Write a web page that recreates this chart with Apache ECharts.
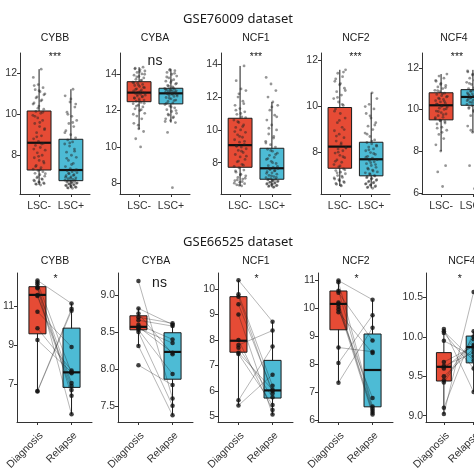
<!DOCTYPE html>
<html><head><meta charset="utf-8">
<script src="https://cdn.jsdelivr.net/npm/echarts/dist/echarts.min.js"></script>
<style>html,body{margin:0;padding:0;background:#fff}#c{width:474px;height:474px}</style>
</head><body><div id="c"></div>
<script>
// ---------- text ----------
const topTitle = 'GSE76009 dataset';
const bottomTitle = 'GSE66525 dataset';
const genes = ['CYBB', 'CYBA', 'NCF1', 'NCF2', 'NCF4'];
const topGroups = ['LSC-', 'LSC+'];
const bottomGroups = ['Diagnosis', 'Relapse'];
const topSig = ['***', 'ns', '***', '***', '***'];
const bottomSig = ['*', 'ns', '*', '*', '*'];

// ---------- axes ----------
const topYTicks = [[8, 10, 12], [8, 10, 12, 14], [8, 10, 12, 14], [8, 10, 12], [6, 8, 10, 12]];
const topYRange = [[6.11, 12.99], [7.41, 15.17], [6.09, 14.69], [6.2, 12.33], [5.94, 12.71]];
const bottomYTicks = [[7, 9, 11], [7.5, 8.0, 8.5, 9.0], [5, 6, 7, 8, 9, 10], [6, 7, 8, 9, 10, 11], [9.0, 9.5, 10.0, 10.5]];
const bottomYRange = [[5.06, 12.68], [7.28, 9.30], [4.78, 10.63], [5.95, 11.25], [8.92, 10.81]];
const bottomYDecimals = [0, 1, 0, 0, 1];

// ---------- box statistics [min, Q1, median, Q3, max] ----------
const topBoxNeg = [[6.55, 7.28, 8.61, 10.16, 12.2], [10.97, 12.49, 12.99, 13.59, 14.39], [6.58, 7.72, 9.07, 10.71, 13.9], [6.55, 7.32, 8.26, 9.96, 11.6], [8.0, 9.5, 10.2, 10.8, 11.7]];
const topBoxPos = [[6.39, 6.76, 7.28, 8.78, 11.22], [11.34, 12.37, 12.95, 13.23, 14.27], [6.5, 6.99, 7.66, 8.88, 11.7], [6.45, 6.99, 7.71, 8.45, 10.6], [8.9, 10.2, 10.6, 10.95, 11.9]];
const bottomBoxDiag = [[6.65, 9.57, 11.56, 11.98, 12.3], [8.31, 8.53, 8.57, 8.72, 8.82], [5.43, 7.52, 7.97, 9.7, 10.35], [7.35, 9.23, 10.15, 10.61, 10.98], [9.02, 9.44, 9.62, 9.80, 10.1]];
const bottomBoxRel = [[5.45, 6.83, 7.6, 9.86, 11.12], [7.37, 7.86, 8.23, 8.49, 8.62], [5.07, 5.72, 6.02, 7.2, 8.72], [6.22, 6.49, 7.8, 9.08, 10.3], [9.3, 9.67, 9.87, 10.01, 10.07]];

// ---------- GSE76009 sample values ----------
const cybbNeg = [6.55, 6.6, 6.65, 6.7, 6.78, 6.85, 6.9, 6.98, 7.05, 7.12, 7.2, 7.26, 7.32, 7.4, 7.5, 7.62, 7.75, 7.88, 8.0, 8.12, 8.25, 8.38, 8.48, 8.58, 8.68, 8.8, 8.95, 9.1, 9.25, 9.4, 9.55, 9.7, 9.82, 9.95, 10.05, 10.14, 10.25, 10.4, 10.55, 10.7, 10.85, 11.0, 11.1, 11.2, 11.3, 11.45, 11.8, 12.2,
  6.58, 6.62, 6.68, 6.75, 6.82, 6.95, 7.1, 7.3, 7.45, 7.7, 7.95, 8.3, 8.55, 8.9, 9.3, 9.6, 9.9, 10.1, 10.3, 10.5, 10.65, 10.8, 10.95, 11.15, 11.4];
const cybbPos = [6.39, 6.42, 6.45, 6.5, 6.53, 6.57, 6.6, 6.63, 6.66, 6.69, 6.72, 6.75, 6.78, 6.82, 6.86, 6.9, 6.95, 7.0, 7.05, 7.1, 7.15, 7.2, 7.24, 7.27, 7.35, 7.45, 7.6, 7.75, 7.9, 8.0, 8.15, 8.3, 8.45, 8.55, 8.65, 8.75, 8.85, 9.0, 9.2, 9.4, 9.55, 9.7, 9.9, 10.1, 10.35, 10.6, 10.9, 11.22,
  6.4, 6.44, 6.48, 6.52, 6.55, 6.6, 6.65, 6.7, 6.74, 6.8, 6.88, 6.93, 7.02, 7.12, 7.3, 7.55, 7.85, 8.2, 8.6, 9.1, 9.6, 10.0, 10.5, 10.75];
const cybaNeg = [10.0, 10.45, 10.85, 11.0, 11.3, 11.55, 11.7, 11.85, 12.0, 12.1, 12.2, 12.3, 12.38, 12.45, 12.52, 12.58, 12.64, 12.7, 12.75, 12.8, 12.85, 12.9, 12.94, 12.98, 13.02, 13.08, 13.14, 13.2, 13.26, 13.32, 13.38, 13.44, 13.5, 13.56, 13.65, 13.72, 13.8, 13.88, 13.95, 14.02, 14.1, 14.18, 14.26, 14.33, 14.39,
  11.2, 11.8, 12.05, 12.25, 12.4, 12.55, 12.68, 12.78, 12.88, 12.96, 13.05, 13.16, 13.28, 13.4, 13.52, 13.68, 13.85, 14.0, 14.15, 14.3];
const cybaPos = [7.76, 10.8, 11.34, 11.45, 11.55, 11.65, 11.75, 11.85, 11.95, 12.05, 12.15, 12.25, 12.33, 12.42, 12.5, 12.58, 12.65, 12.72, 12.78, 12.83, 12.88, 12.92, 12.94, 12.95, 12.97, 13.0, 13.03, 13.06, 13.09, 13.12, 13.15, 13.18, 13.2, 13.22, 13.3, 13.38, 13.46, 13.55, 13.62, 13.7, 13.8, 13.9, 14.0, 14.1, 14.2, 14.27,
  11.4, 11.6, 11.8, 12.0, 12.2, 12.4, 12.55, 12.68, 12.8, 12.9, 12.96, 13.02, 13.1, 13.17, 13.25, 13.35, 13.5, 13.65, 13.85, 14.05, 14.22];
const ncf1Neg = [6.58, 6.65, 6.72, 6.8, 6.9, 7.0, 7.1, 7.2, 7.3, 7.42, 7.55, 7.68, 7.78, 7.9, 8.05, 8.2, 8.35, 8.5, 8.62, 8.75, 8.85, 8.95, 9.02, 9.12, 9.25, 9.4, 9.55, 9.7, 9.85, 10.0, 10.15, 10.3, 10.45, 10.6, 10.8, 10.95, 11.1, 11.3, 11.5, 11.75, 12.0, 12.4, 12.5, 13.0, 13.9,
  6.62, 6.75, 6.85, 6.95, 7.05, 7.25, 7.5, 7.85, 8.1, 8.4, 8.7, 9.0, 9.3, 9.6, 9.9, 10.2, 10.5, 10.75, 11.0, 11.2, 11.6, 12.2];
const ncf1Pos = [6.5, 6.55, 6.6, 6.65, 6.7, 6.75, 6.8, 6.85, 6.9, 6.95, 6.98, 7.02, 7.08, 7.15, 7.22, 7.3, 7.38, 7.45, 7.52, 7.58, 7.64, 7.72, 7.82, 7.95, 8.08, 8.2, 8.32, 8.45, 8.58, 8.7, 8.82, 8.95, 9.1, 9.3, 9.5, 9.75, 10.0, 10.3, 10.6, 10.9, 11.2, 11.5, 11.7, 12.0, 12.4, 12.8, 13.2,
  6.52, 6.58, 6.62, 6.68, 6.72, 6.78, 6.82, 6.88, 6.92, 7.0, 7.1, 7.2, 7.35, 7.5, 7.62, 7.78, 8.0, 8.25, 8.5, 8.75, 9.2, 9.6, 10.1, 10.8, 11.4];
const ncf2Neg = [6.55, 6.62, 6.7, 6.78, 6.85, 6.92, 7.0, 7.08, 7.15, 7.22, 7.29, 7.38, 7.48, 7.58, 7.68, 7.78, 7.88, 7.98, 8.08, 8.16, 8.23, 8.35, 8.5, 8.65, 8.8, 8.95, 9.1, 9.3, 9.5, 9.7, 9.9, 10.05, 10.2, 10.35, 10.5, 10.65, 10.8, 10.95, 11.1, 11.3, 11.45, 11.6,
  6.58, 6.66, 6.74, 6.82, 6.9, 6.98, 7.12, 7.25, 7.42, 7.62, 7.82, 8.02, 8.2, 8.42, 8.72, 9.0, 9.4, 9.8, 10.1, 10.4, 10.7, 11.0, 11.2, 11.5];
const ncf2Pos = [6.45, 6.5, 6.55, 6.6, 6.65, 6.7, 6.76, 6.82, 6.88, 6.94, 6.98, 7.05, 7.12, 7.2, 7.28, 7.36, 7.44, 7.52, 7.6, 7.66, 7.7, 7.76, 7.84, 7.92, 8.0, 8.08, 8.16, 8.24, 8.32, 8.38, 8.44, 8.55, 8.7, 8.85, 9.0, 9.15, 9.3, 9.5, 9.7, 9.9, 10.1, 10.35, 10.6,
  6.48, 6.52, 6.58, 6.63, 6.68, 6.73, 6.79, 6.85, 6.91, 7.0, 7.08, 7.16, 7.24, 7.32, 7.48, 7.56, 7.8, 7.96, 8.12, 8.28, 8.5, 8.8, 9.2, 9.6, 10.0];
const ncf4Neg = [6.3, 7.0, 7.3, 8.0, 8.3, 8.6, 8.8, 9.0, 9.15, 9.3, 9.42, 9.48, 9.55, 9.62, 9.7, 9.78, 9.85, 9.92, 10.0, 10.06, 10.12, 10.18, 10.24, 10.3, 10.36, 10.42, 10.48, 10.54, 10.6, 10.66, 10.72, 10.78, 10.85, 10.92, 11.0, 11.08, 11.15, 11.25, 11.35, 11.5, 11.6, 11.7,
  8.9, 9.1, 9.35, 9.45, 9.6, 9.75, 9.9, 10.03, 10.15, 10.27, 10.39, 10.51, 10.63, 10.75, 10.9, 11.05, 11.2, 11.4];
const ncf4Pos = [6.2, 7.3, 7.7, 8.9, 9.2, 9.5, 9.7, 9.85, 9.95, 10.05, 10.12, 10.18, 10.24, 10.3, 10.35, 10.4, 10.44, 10.48, 10.52, 10.56, 10.58, 10.63, 10.67, 10.71, 10.75, 10.79, 10.83, 10.87, 10.9, 10.93, 11.0, 11.1, 11.2, 11.3, 11.4, 11.5, 11.6, 11.7, 11.8, 11.9,
  9.0, 9.4, 9.9, 10.1, 10.22, 10.33, 10.42, 10.5, 10.55, 10.6, 10.65, 10.73, 10.81, 10.88, 10.96, 11.05, 11.25, 11.45, 11.65, 11.85];

// ---------- GSE66525 paired values (same patient order) ----------
const cybbDiag = [12.3, 12.2, 12.1, 11.95, 11.9, 11.55, 11.5, 10.7, 9.85, 9.25, 6.65, 6.62];
const cybbRel  = [11.12, 7.55, 6.4, 5.45, 7.05, 6.9, 6.7, 8.9, 7.7, 7.6, 10.85, 10.75];
const cybaDiag = [9.19, 8.82, 8.75, 8.7, 8.66, 8.6, 8.57, 8.55, 8.53, 8.5, 8.31, 8.05];
const cybaRel  = [7.6, 8.6, 8.2, 8.62, 8.58, 8.4, 8.22, 8.35, 7.93, 7.5, 7.37, 7.78];
const ncf1Diag = [10.35, 9.8, 9.7, 9.4, 9.0, 8.0, 7.8, 7.7, 7.5, 7.45, 5.63, 5.43];
const ncf1Rel  = [8.72, 6.2, 5.9, 6.0, 5.07, 5.25, 8.37, 5.75, 6.05, 5.45, 7.74, 6.64];
const ncf2Diag = [10.98, 10.92, 10.62, 10.55, 10.2, 10.15, 10.05, 9.95, 9.85, 8.6, 8.05, 7.35];
const ncf2Rel  = [10.3, 6.5, 6.42, 8.85, 6.35, 6.28, 6.22, 6.8, 8.4, 8.45, 9.75, 9.3];
const ncf4Diag = [10.1, 10.07, 10.05, 9.95, 9.68, 9.63, 9.6, 9.5, 9.45, 9.42, 9.1, 9.02];
const ncf4Rel  = [9.3, 9.7, 9.6, 9.75, 9.88, 9.8, 9.9, 9.85, 10.0, 9.97, 10.07, 10.57];

const topPoints = [[cybbNeg, cybbPos], [cybaNeg, cybaPos], [ncf1Neg, ncf1Pos], [ncf2Neg, ncf2Pos], [ncf4Neg, ncf4Pos]];
const bottomPairs = [[cybbDiag, cybbRel], [cybaDiag, cybaRel], [ncf1Diag, ncf1Rel], [ncf2Diag, ncf2Rel], [ncf4Diag, ncf4Rel]];

// ---------- layout / style ----------
const RED = '#E64B35', BLUE = '#4DBBD5';
const AX = '#333333', TXT = '#333333';
const FONT = '"Liberation Sans", Arial, sans-serif';
const topLeft = [20, 120, 221, 321, 422], topW = [70, 70, 70, 69, 70], topTop = 53, topH = 141;
const topTitleX = [55, 155, 256, 356, 454];
const botLeft = [17, 118, 218, 318, 426], botW = [75, 75, 75, 75, 65.5], botTop = 273, botH = 149;
const botTitleX = [55, 156, 256, 356, 462];

function jitter(k) { return (((k + 1) * 0.6180339887) % 1 - 0.5) * 0.4; }

function boxRenderer(hw) {
  return function (params, api) {
    const x = api.value(0);
    const pMin = api.coord([x, api.value(1)]), pMax = api.coord([x, api.value(5)]);
    const tl = api.coord([x - hw, api.value(4)]), br = api.coord([x + hw, api.value(2)]);
    const ml = api.coord([x - hw, api.value(3)]), mr = api.coord([x + hw, api.value(3)]);
    const fill = params.dataIndex === 0 ? RED : BLUE;
    return { type: 'group', children: [
      { type: 'line', shape: { x1: pMin[0], y1: pMin[1], x2: pMax[0], y2: pMax[1] }, style: { stroke: '#1a1a1a', lineWidth: 1 } },
      { type: 'rect', shape: { x: tl[0], y: tl[1], width: br[0] - tl[0], height: br[1] - tl[1] }, style: { fill: fill, stroke: '#1a1a1a', lineWidth: 1 } },
      { type: 'line', shape: { x1: ml[0], y1: ml[1], x2: mr[0], y2: mr[1] }, style: { stroke: '#111', lineWidth: 2.2 } }
    ] };
  };
}

const grid = [], xAxis = [], yAxis = [], series = [], graphic = [];

function addAxes(idx, left, w, top, h, groups, ticks, range, dec, rotate) {
  grid.push({ left: left, top: top, width: w, height: h, outerBoundsMode: 'none', containLabel: false });
  const base = { customValues: [1, 2], formatter: v => groups[Math.round(v) - 1], color: TXT, fontSize: 10.5, fontFamily: FONT, showMinLabel: true, showMaxLabel: true, hideOverlap: false };
  xAxis.push({
    gridIndex: idx, type: 'value', min: 0.4, max: 2.6,
    axisLine: { show: true, onZero: false, lineStyle: { color: AX, width: 1 } },
    splitLine: { show: false },
    axisTick: { show: true, customValues: [1, 2], length: 3, lineStyle: { color: AX } },
    axisLabel: rotate ? Object.assign({}, base, { margin: 8, rotate: rotate, align: 'right', verticalAlign: 'top' })
                      : Object.assign({}, base, { margin: 7 })
  });
  yAxis.push({
    gridIndex: idx, type: 'value', min: range[0], max: range[1],
    axisLine: { show: true, onZero: false, lineStyle: { color: AX, width: 1 } },
    splitLine: { show: false },
    axisTick: { show: true, customValues: ticks, length: 3, lineStyle: { color: AX } },
    axisLabel: { customValues: ticks, formatter: v => v.toFixed(dec), color: TXT, fontSize: 10.5, fontFamily: FONT, margin: 3 }
  });
}

function addText(text, x, y, size, family) {
  graphic.push({ type: 'text', x: x, y: y, style: { text: text, fill: '#1a1a1a', font: size + 'px ' + (family || FONT), textAlign: 'center', textVerticalAlign: 'middle' } });
}

// top row
for (let i = 0; i < 5; i++) {
  addAxes(i, topLeft[i], topW[i], topTop, topH, topGroups, topYTicks[i], topYRange[i], 0, 0);
  series.push({ type: 'custom', xAxisIndex: i, yAxisIndex: i, renderItem: boxRenderer(0.375),
    data: [[1].concat(topBoxNeg[i]), [2].concat(topBoxPos[i])], z: 2 });
  const pts = [];
  topPoints[i].forEach((arr, g) => arr.forEach((v, k) => pts.push([g + 1 + jitter(k), v])));
  series.push({ type: 'scatter', xAxisIndex: i, yAxisIndex: i, data: pts, symbolSize: 2.8,
    itemStyle: { color: 'rgba(35,35,35,0.6)' }, z: 3, silent: true });
  const cx = topLeft[i] + topW[i] / 2;
  addText(genes[i], topTitleX[i], 38, 10.5);
  if (topSig[i] === 'ns') addText('ns', cx, 61, 14); else addText(topSig[i], cx, 57, 10.5);
}
// bottom row
for (let i = 0; i < 5; i++) {
  const idx = 5 + i;
  addAxes(idx, botLeft[i], botW[i], botTop, botH, bottomGroups, bottomYTicks[i], bottomYRange[i], bottomYDecimals[i], 45);
  series.push({ type: 'custom', xAxisIndex: idx, yAxisIndex: idx, renderItem: boxRenderer(0.25),
    data: [[1].concat(bottomBoxDiag[i]), [2].concat(bottomBoxRel[i])], z: 2 });
  const d = bottomPairs[i][0], r = bottomPairs[i][1];
  series.push({ type: 'lines', coordinateSystem: 'cartesian2d', xAxisIndex: idx, yAxisIndex: idx,
    data: d.map((v, k) => ({ coords: [[1, v], [2, r[k]]] })),
    lineStyle: { color: 'rgba(25,25,25,0.8)', width: 0.8 }, z: 3, silent: true });
  const pts = d.map(v => [1, v]).concat(r.map(v => [2, v]));
  series.push({ type: 'scatter', xAxisIndex: idx, yAxisIndex: idx, data: pts, symbolSize: 4.5,
    itemStyle: { color: '#111' }, z: 4, silent: true });
  const cx = botLeft[i] + botW[i] / 2;
  addText(genes[i], botTitleX[i], 261, 10.5);
  if (bottomSig[i] === 'ns') addText('ns', cx + 4, 283, 14); else addText(bottomSig[i], cx + 1, 279, 10.5);
}
addText(topTitle, 238, 19, 13, '"Noto Sans", "Open Sans", sans-serif');
addText(bottomTitle, 238, 242, 13, '"Noto Sans", "Open Sans", sans-serif');

const chart = echarts.init(document.getElementById('c'), null, { renderer: 'canvas' });
chart.setOption({ animation: false, backgroundColor: '#fff', grid, xAxis, yAxis, series, graphic });
</script></body></html>
